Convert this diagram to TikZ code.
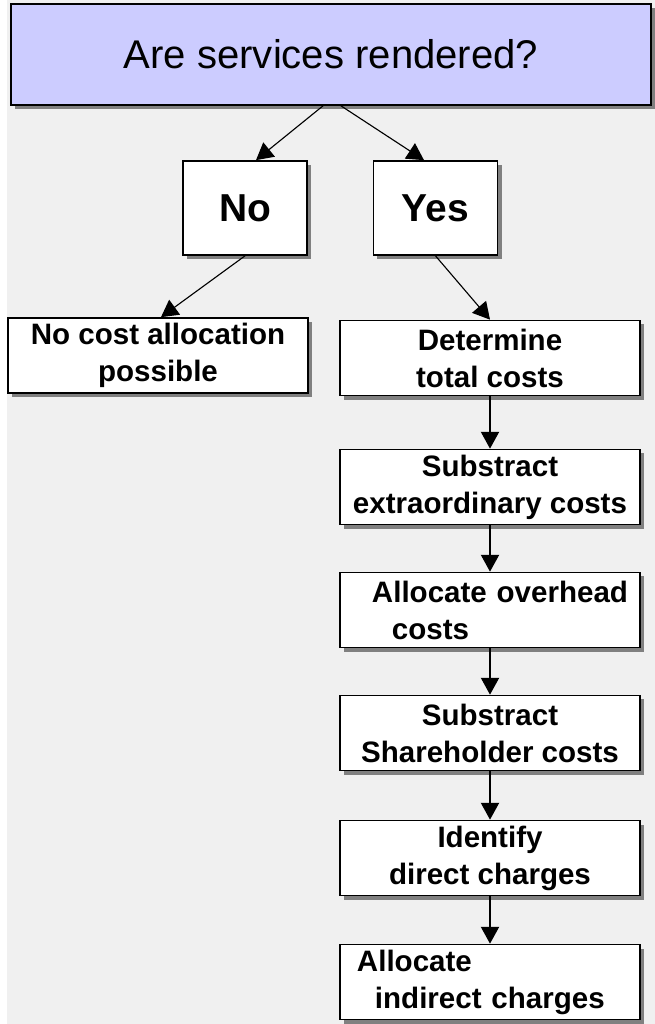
\documentclass[tikz,border=0pt]{standalone}
\usepackage{fontspec}
\setmainfont{Liberation Sans}
\usepackage{xcolor}
\usepackage{tikz}
\usetikzlibrary{shapes,arrows,positioning,calc,shadows,arrows.meta}
\definecolor{panelgray}{HTML}{F0F0F0}
\definecolor{questionblue}{HTML}{CCCCFF}
\definecolor{shadowgray}{HTML}{808080}

\begin{document}
\begin{tikzpicture}[x=0.025cm, y=-0.025cm,
    box/.style={draw, line width=1.2pt, fill=white, align=center, inner sep=0pt,
        drop shadow={shadow xshift=0.1cm, shadow yshift=-0.1cm, fill=shadowgray, opacity=1},
        font=\fontsize{21}{26.3}\selectfont\bfseries},
    stepbox/.style={box, minimum width=7.5cm, minimum height=1.875cm},
    answer/.style={box, minimum width=3.1cm, minimum height=2.35cm, font=\fontsize{27.7}{33}\selectfont\bfseries},
    arr/.style={-{Triangle[length=12pt, width=13pt]}, line width=0.8pt}]
    \useasboundingbox (0,0) rectangle (655,1024);
    \fill[white] (0,0) rectangle (655,1024);
    \fill[panelgray] (7,0) rectangle (655,1024);

    % Question
    \node[box, fill=questionblue, minimum width=16cm, minimum height=2.525cm,
        font=\fontsize{28.5}{34}\selectfont] (question) at (331,54.5) {Are services rendered?};

    % Answers
    \node[answer] (no) at (245,208) {No};
    \node[answer] (yes) at (435.5,208) {Yes};

    % No branch
    \node[stepbox] (nocost) at (158,355.5) {No cost allocation\\possible};

    % Yes branch
    \node[stepbox] (total) at (490,358) {Determine\\total costs};
    \node[stepbox] (extra) at (490,487) {Substract\\extraordinary costs};
    \node[stepbox, align=left, text width=7.3cm, inner xsep=0.1cm] (overhead) at (490,610)
        {\hspace*{0.7cm}\mbox{Allocate overhead}\\\hspace*{1.2cm}costs};
    \node[stepbox] (share) at (490,733) {Substract\\Shareholder costs};
    \node[stepbox] (direct) at (490,858) {Identify\\direct charges};
    \node[stepbox, align=left, text width=6.65cm, inner xsep=0.425cm] (indirect) at (490,982)
        {Allocate\\\hspace*{0.45cm}\mbox{indirect charges}};

    % Arrows
    \draw[arr] ($(question.south)+(-8,0)$) -- ($(no.north)+(11,0)$);
    \draw[arr] ($(question.south)+(10,0)$) -- ($(yes.north)+(-11.5,0)$);
    \draw[arr] (no.south) -- ($(nocost.north)+(3,0)$);
    \draw[arr] (yes.south) -- (total.north);
    \foreach \a/\b in {total/extra, extra/overhead, overhead/share, share/direct, direct/indirect}
        \draw[arr] (\a.south) -- (\b.north);
\end{tikzpicture}
\end{document}
